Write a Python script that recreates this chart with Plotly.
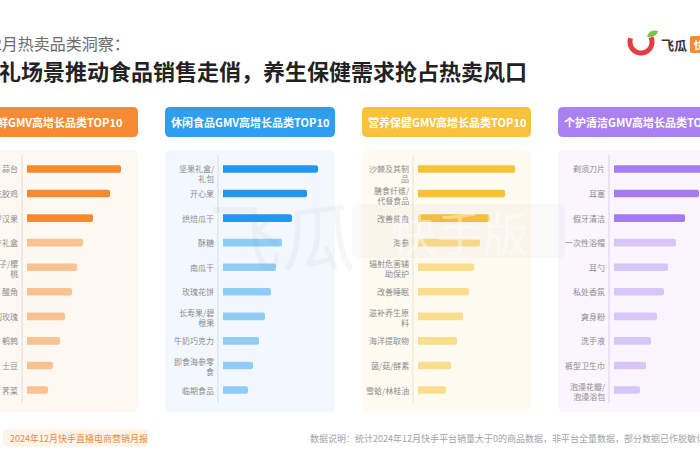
import plotly.graph_objects as go
import numpy as np

W, H = 700, 470

# ---------------- data ----------------
panel_titles = ["生鲜GMV高增长品类TOP10", "休闲食品GMV高增长品类TOP10",
                "营养保健GMV高增长品类TOP10", "个护清洁GMV高增长品类TOP10"]

fresh_labels = ["蒜台", "花胶鸡", "罗汉果", "水产礼盒", "车厘子/樱<br>桃", "酸角",
                "鲜切玫瑰", "鹌鹑", "土豆", "荠菜"]
fresh_values = [94, 83, 66, 56, 50, 45, 38, 33, 26, 21]

snack_labels = ["坚果礼盒/<br>礼包", "开心果", "烘焙瓜干", "酥糖", "南瓜干", "玫瑰花饼",
                "长寿果/碧<br>根果", "牛奶巧克力", "即食海参零<br>食", "临期食品"]
snack_values = [95, 84, 69, 59, 53, 48, 42, 36, 30, 25]

health_labels = ["沙棘及其制<br>品", "膳食纤维/<br>代餐食品", "改善贫血", "海参",
                 "辐射危害辅<br>助保护", "改善睡眠", "滋补养生原<br>料", "海洋提取物",
                 "菌/菇/酵素", "雪蛤/林蛙油"]
health_values = [97, 87, 72, 62, 56, 51, 45, 39, 33, 28]

care_labels = ["剃须刀片", "耳塞", "假牙清洁", "一次性浴帽", "耳勺", "私处香氛",
               "爽身粉", "洗手液", "裤型卫生巾", "泡澡花瓣/<br>泡澡浴包"]
care_values = [98, 85, 71, 62, 54, 50, 43, 37, 32, 26]

title_line1 = "12月热卖品类洞察："
title_line2 = "送礼场景推动食品销售走俏，养生保健需求抢占热卖风口"
footer_left = "2024年12月快手直播电商营销月报"
footer_right = "数据说明：统计2024年12月快手平台销量大于0的商品数据，非平台全量数据，部分数据已作脱敏化处理"

# ---------------- layout helpers ----------------
def fx(p):
    return p / W


def fy(p):
    return 1 - p / H


def rrect(x0, y0, x1, y1, r):
    pts = [
        f"M{fx(x0 + r)},{fy(y0)}", f"L{fx(x1 - r)},{fy(y0)}",
        f"Q{fx(x1)},{fy(y0)} {fx(x1)},{fy(y0 + r)}", f"L{fx(x1)},{fy(y1 - r)}",
        f"Q{fx(x1)},{fy(y1)} {fx(x1 - r)},{fy(y1)}", f"L{fx(x0 + r)},{fy(y1)}",
        f"Q{fx(x0)},{fy(y1)} {fx(x0)},{fy(y1 - r)}", f"L{fx(x0)},{fy(y0 + r)}",
        f"Q{fx(x0)},{fy(y0)} {fx(x0 + r)},{fy(y0)}", "Z",
    ]
    return " ".join(pts)


styles = [
    dict(head="#F68B33", dark="#F58A2F", light="#F9C293", bg="#FEF8F2", line="#EEDFD2"),
    dict(head="#2E9EF0", dark="#2496EE", light="#8FCDF6", bg="#F3F8FE", line="#D6E3F1"),
    dict(head="#F8C23D", dark="#F9C236", light="#FBDD8E", bg="#FFFBF1", line="#F1E7CC"),
    dict(head="#AB80F1", dark="#A67BEF", light="#D9C6F8", bg="#FAF5FE", line="#E2D6F2"),
]
panel_x = [(-31, 138), (165, 335), (362, 531), (558, 728)]
bar_start = [27, 223, 418, 614]
series = [(fresh_labels, fresh_values), (snack_labels, snack_values),
          (health_labels, health_values), (care_labels, care_values)]

row_top, row_bottom = 156.7, 402.3

fig = go.Figure()
shapes = []
annotations = []
layout_axes = {}

for i, ((labels, values), st, (px0, px1), bs) in enumerate(zip(series, styles, panel_x, bar_start)):
    n = i + 1
    xa = "x" if n == 1 else f"x{n}"
    ya = "y" if n == 1 else f"y{n}"
    colors = [st["dark"] if k < 3 else st["light"] for k in range(len(values))]
    fig.add_trace(go.Bar(
        x=values, y=labels, orientation="h", xaxis=xa, yaxis=ya,
        marker=dict(color=colors, cornerradius=2, line=dict(width=0)),
        width=0.31, hoverinfo="skip", showlegend=False,
    ))
    xend = min(bs + 100, W)
    layout_axes[f"xaxis{'' if n == 1 else n}"] = dict(
        domain=[fx(bs), fx(xend)], range=[0, xend - bs], visible=False,
        anchor=ya, fixedrange=True)
    layout_axes[f"yaxis{'' if n == 1 else n}"] = dict(
        domain=[fy(row_bottom), fy(row_top)], type="category",
        categoryorder="array", categoryarray=labels,
        range=[len(labels) - 0.5, -0.5], visible=False, anchor=xa, fixedrange=True)

    # panel background & header
    shapes.append(dict(type="path", xref="paper", yref="paper",
                       path=rrect(px0, 150, px1, 412, 6), fillcolor=st["bg"],
                       line=dict(width=0), layer="below"))
    shapes.append(dict(type="path", xref="paper", yref="paper",
                       path=rrect(px0, 107, px1, 137, 5), fillcolor=st["head"],
                       line=dict(width=0), layer="below"))
    # axis line
    shapes.append(dict(type="line", xref="paper", yref="paper",
                       x0=fx(bs - 5), x1=fx(bs - 5), y0=fy(155), y1=fy(403),
                       line=dict(color=st["line"], width=1.2), layer="below"))
    annotations.append(dict(
        x=fx((px0 + px1) / 2), y=fy(122), xref="paper", yref="paper",
        text=f"<b>{panel_titles[i]}</b>", showarrow=False,
        font=dict(size=11, color="white", family="Noto Sans CJK SC"),
        xanchor="center", yanchor="middle"))
    # category labels
    for k, lab in enumerate(labels):
        multi = "<br>" in lab
        shift = 0
        if multi:
            shift = -5 if k == 0 else -1.5
        annotations.append(dict(
            x=fx(bs - 7), y=lab, xref="paper", yref=ya, text=lab, showarrow=False,
            xanchor="right", yanchor="middle", align="right", yshift=shift,
            font=dict(size=8, color="#8C8C8C", family="Noto Sans CJK SC")))

# ---------------- titles ----------------
annotations.append(dict(x=fx(-18.5), y=fy(43), xref="paper", yref="paper",
                        text=title_line1, showarrow=False, xanchor="left", yanchor="middle",
                        font=dict(size=16, color="#6B6B6B", family="Noto Sans CJK SC")))
annotations.append(dict(x=fx(-25), y=fy(70), xref="paper", yref="paper",
                        text=f"<b>{title_line2}</b>", showarrow=False, xanchor="left",
                        yanchor="middle",
                        font=dict(size=22, color="#222222", family="Noto Sans CJK SC")))

# ---------------- footer ----------------
shapes.append(dict(type="path", xref="paper", yref="paper",
                   path=rrect(3, 429, 148, 447, 4), fillcolor="#FEF4EA",
                   line=dict(width=0), layer="below"))
annotations.append(dict(x=fx(8), y=fy(438), xref="paper", yref="paper", text=footer_left,
                        showarrow=False, xanchor="left", yanchor="middle",
                        font=dict(size=9, color="#EE8A3A", family="Noto Sans CJK SC")))
annotations.append(dict(x=fx(308), y=fy(438), xref="paper", yref="paper", text=footer_right,
                        showarrow=False, xanchor="left", yanchor="middle",
                        font=dict(size=9, color="#A3A3A3", family="Noto Sans CJK SC")))

# ---------------- logo ----------------
theta = np.radians(np.linspace(200, -25, 40))
cx, cy, r = 641, 42, 11
arc = " ".join(("M" if k == 0 else "L") + f"{fx(cx + r*np.cos(t))},{fy(cy + r*np.sin(t))}"
               for k, t in enumerate(theta))
shapes.append(dict(type="path", xref="paper", yref="paper", path=arc,
                   line=dict(color="#E23C45", width=5), fillcolor="rgba(0,0,0,0)"))
leaf = (f"M{fx(647)},{fy(37)} Q{fx(649)},{fy(29)} {fx(658)},{fy(31)} "
        f"Q{fx(656)},{fy(38)} {fx(647)},{fy(37)} Z")
shapes.append(dict(type="path", xref="paper", yref="paper", path=leaf,
                   fillcolor="#7DC243", line=dict(width=0)))
annotations.append(dict(x=fx(659), y=fy(44), xref="paper", yref="paper", text="<b>飞瓜</b>",
                        showarrow=False, xanchor="left", yanchor="middle",
                        font=dict(size=13, color="#333333", family="Noto Sans CJK SC")))
shapes.append(dict(type="path", xref="paper", yref="paper",
                   path=rrect(690, 36, 730, 53, 2), fillcolor="#F68B33", line=dict(width=0)))
annotations.append(dict(x=fx(692), y=fy(44.5), xref="paper", yref="paper", text="<b>快手版</b>",
                        showarrow=False, xanchor="left", yanchor="middle",
                        font=dict(size=10, color="white", family="Noto Sans CJK SC")))

# ---------------- watermark ----------------
shapes.append(dict(type="path", xref="paper", yref="paper",
                   path=rrect(352, 204, 565, 258, 6), fillcolor="rgba(120,120,120,0.045)",
                   line=dict(width=0)))
annotations.append(dict(x=fx(282), y=fy(232), xref="paper", yref="paper", text="飞瓜",
                        showarrow=False, xanchor="center", yanchor="middle",
                        font=dict(size=74, color="rgba(140,140,140,0.07)",
                                  family="Noto Sans CJK SC")))
annotations.append(dict(x=fx(460), y=fy(231), xref="paper", yref="paper", text="快手版",
                        showarrow=False, xanchor="center", yanchor="middle",
                        font=dict(size=46, color="rgba(255,255,255,0.45)",
                                  family="Noto Sans CJK SC")))

fig.update_layout(
    width=W, height=H, margin=dict(l=0, r=0, t=0, b=0),
    paper_bgcolor="white", plot_bgcolor="rgba(0,0,0,0)",
    shapes=shapes, annotations=annotations, bargap=0.3,
    font=dict(family="Noto Sans CJK SC"),
    **layout_axes,
)

fig.write_html("out.html")
